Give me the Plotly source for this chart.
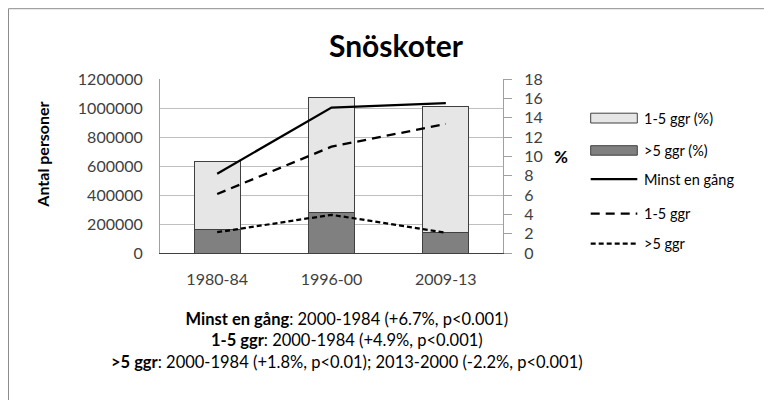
import plotly.graph_objects as go

categories = ["1980-84", "1996-00", "2009-13"]
bar_1_5 = [470000, 795000, 870000]       # 1-5 ggr (%) segment (stacked on top)
bar_over5 = [160000, 276000, 138000]     # >5 ggr (%) segment (bottom)
line_minst = [8.2, 15.05, 15.5]
line_1_5 = [6.1, 11.0, 13.35]
line_over5 = [2.15, 3.95, 2.1]

left_ticks = [0, 200000, 400000, 600000, 800000, 1000000, 1200000]
right_ticks = [0, 2, 4, 6, 8, 10, 12, 14, 16, 18]

legend_labels = ["1-5 ggr (%)", ">5 ggr (%)", "Minst en gång", "1-5 ggr", ">5 ggr"]

FONT = "Lato"
TXT = "#404040"
LIGHT = "#e6e6e6"
DARK = "#808080"
EDGE = "#404040"

# plot area geometry (reference pixel frame) used to place overlay items in paper coords
PX0, PW = 160.0, 343.0
PY0, PH = 253.3, 174.0
def px(x):
    return (x - PX0) / PW
def py(y):
    return (PY0 - y) / PH

fig = go.Figure()

fig.add_trace(go.Bar(x=categories, y=bar_over5, name=">5 ggr (%)",
                     marker=dict(color=DARK, line=dict(color=EDGE, width=1)),
                     showlegend=False))
fig.add_trace(go.Bar(x=categories, y=bar_1_5, name="1-5 ggr (%)",
                     marker=dict(color=LIGHT, line=dict(color=EDGE, width=1)),
                     showlegend=False))
fig.add_trace(go.Scatter(x=categories, y=line_minst, name="Minst en gång", yaxis="y2",
                         mode="lines", line=dict(color="black", width=2.25),
                         showlegend=False))
fig.add_trace(go.Scatter(x=categories, y=line_1_5, name="1-5 ggr", yaxis="y2",
                         mode="lines", line=dict(color="black", width=2.25, dash="9px,6px"),
                         showlegend=False))
fig.add_trace(go.Scatter(x=categories, y=line_over5, name=">5 ggr", yaxis="y2",
                         mode="lines", line=dict(color="black", width=2.25, dash="5px,3px"),
                         showlegend=False))

# manual legend (wide rectangle swatches like the original)
lx0, lx1 = 590.7, 637.3
shapes = [
    dict(type="line", xref="paper", yref="paper", x0=px(8.5), x1=2.2, y0=py(9), y1=py(9),
         line=dict(color="#8c8c8c", width=1)),
    dict(type="line", xref="paper", yref="paper", x0=px(8.5), x1=px(8.5), y0=py(9), y1=-2.0,
         line=dict(color="#8c8c8c", width=1)),
    dict(type="rect", xref="paper", yref="paper", x0=px(lx0), x1=px(lx1), y0=py(113.5), y1=py(123.3),
         fillcolor=LIGHT, line=dict(color=EDGE, width=1)),
    dict(type="rect", xref="paper", yref="paper", x0=px(lx0), x1=px(lx1), y0=py(146), y1=py(155.5),
         fillcolor=DARK, line=dict(color=EDGE, width=1)),
    dict(type="line", xref="paper", yref="paper", x0=px(lx0), x1=px(lx1), y0=py(179.5), y1=py(179.5),
         line=dict(color="black", width=2.25)),
    dict(type="line", xref="paper", yref="paper", x0=px(lx0), x1=px(lx1), y0=py(214), y1=py(214),
         line=dict(color="black", width=2.25, dash="9px,6px")),
    dict(type="line", xref="paper", yref="paper", x0=px(lx0), x1=px(lx1), y0=py(244), y1=py(244),
         line=dict(color="black", width=2.25, dash="5px,3px")),
]
legend_y = [118.4, 150.7, 179.5, 214, 244]

annotations = [
    dict(text="<b>Snöskoter</b>", xref="paper", yref="paper", x=px(396), y=py(45),
         xanchor="center", yanchor="middle", showarrow=False,
         font=dict(family=FONT, size=30, color="black")),
    dict(text="<b>Antal personer</b>", xref="paper", yref="paper", x=px(43),
         y=py(155), textangle=-90, xanchor="center", yanchor="middle",
         showarrow=False, font=dict(family=FONT, size=16, color="black")),
    dict(text="<b>%</b>", xref="paper", yref="paper", x=px(561),
         y=py(157), xanchor="center", yanchor="middle",
         showarrow=False, font=dict(family=FONT, size=17, color="black")),
    dict(text="<b>Minst en gång</b>: 2000-1984 (+6.7%, p<0.001)<br>"
              "<b>1-5 ggr</b>: 2000-1984 (+4.9%, p<0.001)<br>"
              "<b>>5 ggr</b>: 2000-1984 (+1.8%, p<0.01); 2013-2000 (-2.2%, p<0.001)",
         xref="paper", yref="paper", x=px(347), y=py(341),
         xanchor="center", yanchor="middle", align="center", showarrow=False,
         font=dict(family=FONT, size=16.5, color="black")),
]
for lab, ly in zip(legend_labels, legend_y):
    annotations.append(dict(text=lab, xref="paper", yref="paper", x=px(642), y=py(ly),
                            xanchor="left", yanchor="middle", showarrow=False,
                            font=dict(family=FONT, size=14.5, color="black")))

# page body has an 8px margin, so shift the layout up/left by 8px
fig.update_layout(
    width=772, height=400,
    margin=dict(l=152, r=772 - 152 - 343, t=71, b=400 - 71 - 174, pad=0),
    paper_bgcolor="white", plot_bgcolor="white",
    barmode="stack", bargap=0.6,
    font=dict(family=FONT, size=16, color=TXT),
    showlegend=False,
    xaxis=dict(type="category", showgrid=False, showline=True, linecolor=EDGE,
               linewidth=1, ticks="", tickfont=dict(size=16, color=TXT),
               ticklabelstandoff=12),
    yaxis=dict(range=[0, 1200000], tickvals=left_ticks,
               ticktext=[str(v) for v in left_ticks],
               showgrid=True, gridcolor="#bfbfbf", gridwidth=1,
               showline=True, linecolor="#a0a0a0", zeroline=False,
               ticks="", tickfont=dict(size=16, color=TXT), ticklabelstandoff=13),
    yaxis2=dict(range=[0, 18], tickvals=right_ticks, overlaying="y", side="right",
                showgrid=False, showline=True, linecolor="#a0a0a0", zeroline=False,
                ticks="outside", ticklen=8, tickcolor="#a0a0a0",
                tickfont=dict(size=16, color=TXT), ticklabelstandoff=9),
    shapes=shapes,
    annotations=annotations,
)

fig.write_html("out.html")
